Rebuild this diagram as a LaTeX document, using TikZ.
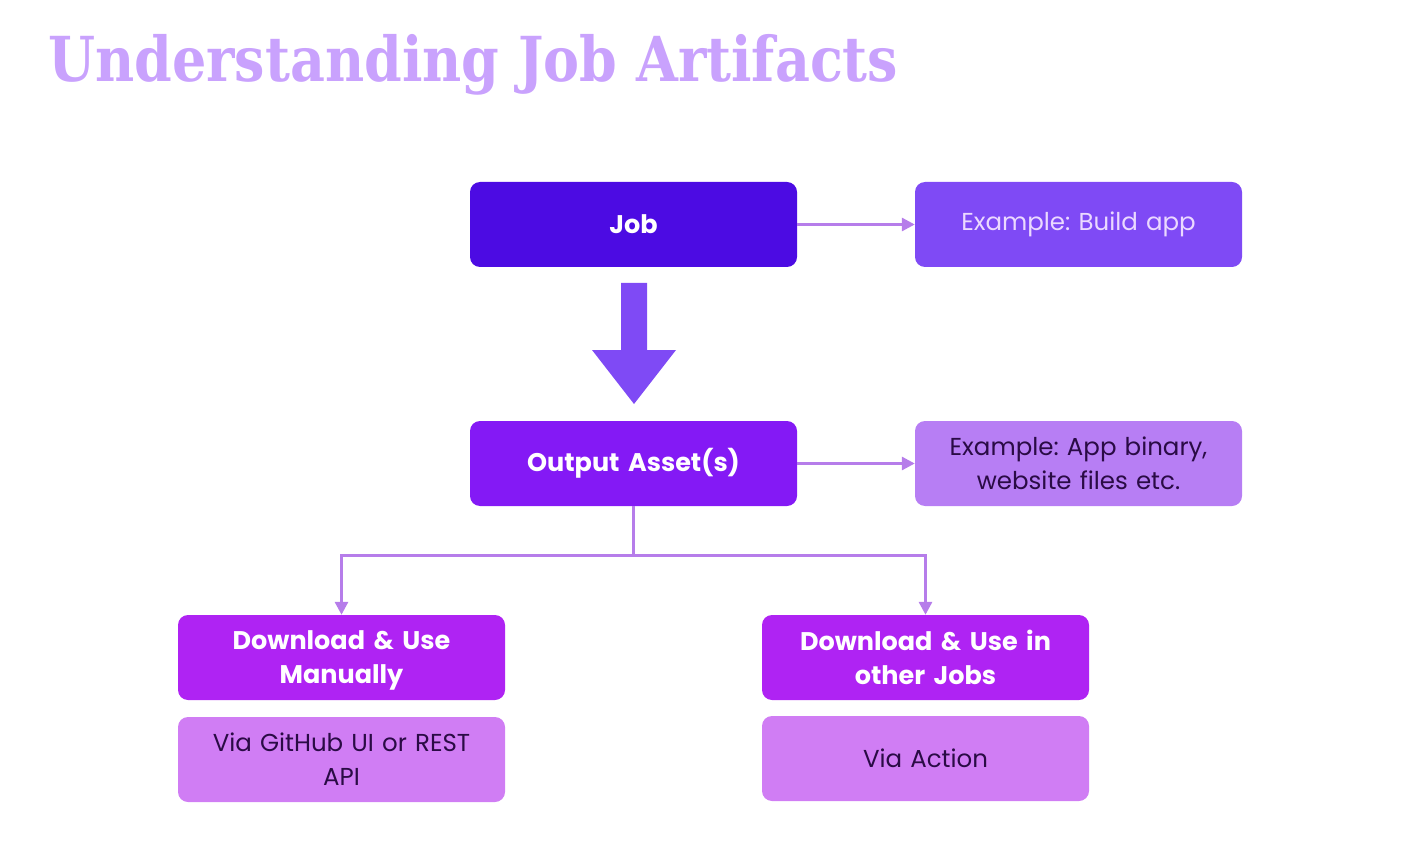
\documentclass[tikz,border=0pt]{standalone}
\usepackage{fontspec}
\setmainfont{Poppins}
\newfontfamily\titlefont{DejaVu Serif}
\usetikzlibrary{arrows.meta}
\definecolor{jobc}{HTML}{4C0BE3}
\definecolor{exa}{HTML}{7F4AF5}
\definecolor{outc}{HTML}{8419F5}
\definecolor{exb}{HTML}{B77EF4}
\definecolor{dlc}{HTML}{AF23F3}
\definecolor{viac}{HTML}{D07DF4}
\definecolor{linec}{HTML}{B67DEA}
\definecolor{titlec}{HTML}{C9A2FD}
\definecolor{darktext}{HTML}{2A0B45}
\definecolor{lighttext}{HTML}{EBD9FF}
\tikzset{
  box/.style={rounded corners=10pt, minimum width=327pt, minimum height=85pt, inner sep=0pt, align=center, text width=315pt},
  strongbox/.style={box, text=white, font=\fontsize{25.5}{34}\selectfont\bfseries},
  softbox/.style={box, font=\fontsize{24.5}{34}\selectfont},
  conn/.style={draw=linec, line width=3pt, -{Triangle[length=13pt,width=13pt]}},
}
\begin{document}
\frenchspacing
\begin{tikzpicture}[x=1pt,y=-1pt]
\useasboundingbox (0,0) rectangle (1402,858);
\node[anchor=base west, inner sep=0pt, text=titlec, font=\titlefont\fontsize{62}{70}\selectfont\bfseries] (title) at (48,82) {\scalebox{0.87}[1]{Understanding Job Artifacts}};

\node[strongbox, fill=jobc] (job) at (633.5,224.5) {Job};
\node[softbox, fill=exa, text=lighttext] (ex1) at (1078.5,224.5) {Example: Build app};
\node[strongbox, fill=outc] (out) at (633.5,463.5) {Output Asset(s)};
\node[softbox, fill=exb, text=darktext] (ex2) at (1078.5,463.5) {Example: App binary,\\website files etc.};
\node[strongbox, fill=dlc] (dl1) at (341.5,657.5) {Download \& Use\\\smash{Manually}};
\node[strongbox, fill=dlc] (dl2) at (925.5,657.5) {Download \& Use in\\other Jobs};
\node[softbox, fill=viac, text=darktext] (via1) at (341.5,759.5) {Via GitHub UI or REST\\API};
\node[softbox, fill=viac, text=darktext] (via2) at (925.5,758.5) {Via Action};

% big arrow
\fill[exa] (621,283) -- (647,283) -- (647,350) -- (676,350) -- (634,404) -- (592,350) -- (621,350) -- cycle;

\draw[conn] (job.east) -- (ex1.west);
\draw[conn] (out.east) -- (ex2.west);
\coordinate (split) at (633.5,555);
\draw[conn] (out.south) -- (split) -| (dl1.north);
\draw[conn] (split) -| (dl2.north);
\end{tikzpicture}
\end{document}
